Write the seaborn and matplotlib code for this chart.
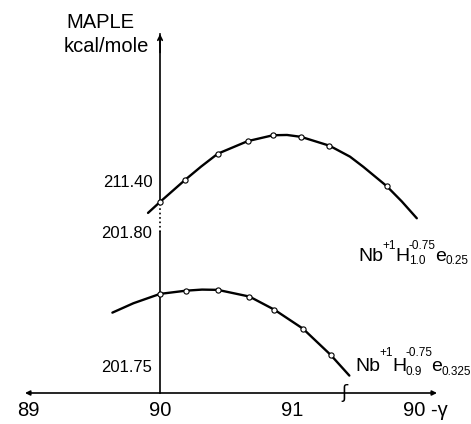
import pandas as pd
import seaborn as sns
from matplotlib import pyplot as plt

# MAPLE (kcal/mole) against 90 - gamma
# upper curve: Nb+1 H1.0 -0.75 e0.25
up_curve_x = [89.909, 90.0, 90.189, 90.311, 90.437, 90.664, 90.856, 90.962,
              91.068, 91.283, 91.439, 91.540, 91.717, 91.831, 91.945]
up_curve_y = [211.3881, 211.3922, 211.4004, 211.4054, 211.4102, 211.4149, 211.4171, 211.4172,
              211.4165, 211.4132, 211.4091, 211.4053, 211.3981, 211.3924, 211.3861]
up_pts_x = [90.0, 90.189, 90.437, 90.664, 90.856, 91.068, 91.283, 91.717]
up_pts_y = [211.3922, 211.4004, 211.4102, 211.4149, 211.4171, 211.4165, 211.4132, 211.3981]

# lower curve: Nb+1 H0.9 -0.75 e0.325
low_curve_x = [89.639, 89.798, 90.0, 90.197, 90.318, 90.437, 90.677, 90.866,
               91.083, 91.293, 91.434]
low_curve_y = [201.7699, 201.7734, 201.7769, 201.7781, 201.7785, 201.7784, 201.7759, 201.7710,
               201.7639, 201.7541, 201.7464]
low_pts_x = [90.0, 90.197, 90.437, 90.677, 90.866, 91.083, 91.293]
low_pts_y = [201.7769, 201.7781, 201.7784, 201.7759, 201.7710, 201.7639, 201.7541]

x_ticks = [89, 90, 91, 92.01]
x_labels = ['89', '90', '91', '90 -γ']
x_break = 91.394
low_ticks = [201.75, 201.80]
low_labels = ['201.75', '201.80']
up_ticks = [211.40]
up_labels = ['211.40']

# formula pieces: (symbol, subscript, superscript)
label_up = [('Nb', '', '+1'), ('H', '1.0', '-0.75'), ('e', '0.25', '')]
label_low = [('Nb', '', '+1'), ('H', '0.9', '-0.75'), ('e', '0.325', '')]

sns.set_style('white')
plt.rcParams['font.family'] = ['Liberation Sans', 'DejaVu Sans']
plt.rcParams['axes.linewidth'] = 1.2
for key in ['text.color', 'axes.labelcolor', 'xtick.color', 'ytick.color', 'axes.edgecolor']:
    plt.rcParams[key] = 'black'

W, H = 471, 424
fig = plt.figure(figsize=(W / 100, H / 100), dpi=100)
renderer = fig.canvas.get_renderer()


def box(x0, y0, x1, y1):
    # pixel box (top-left origin) -> figure fraction rect
    return [x0 / W, 1 - y1 / H, (x1 - x0) / W, (y1 - y0) / H]


def formula(x, base, parts, sup_up, sub_down):
    # chemical formula drawn piece by piece, in pixel coords
    for main, sub, sup in parts:
        t = fig.text(x / W, 1 - base / H, main, fontsize=14, va='baseline')
        x += t.get_window_extent(renderer).width - 0.5
        w = 0
        if sup:
            ts = fig.text(x / W, 1 - (base - sup_up) / H, sup, fontsize=8.5, va='baseline')
            w = max(w, ts.get_window_extent(renderer).width)
        if sub:
            tb = fig.text(x / W, 1 - (base + sub_down) / H, sub, fontsize=8.5, va='baseline')
            w = max(w, tb.get_window_extent(renderer).width)
        x += w - 1


xlim = (88.977, 92.098)
ax_low = fig.add_axes(box(25, 232, 437, 393))
ax_up = fig.add_axes(box(25, 34, 437, 203))

up = pd.DataFrame({'x': up_curve_x, 'y': up_curve_y})
low = pd.DataFrame({'x': low_curve_x, 'y': low_curve_y})
sns.lineplot(data=up, x='x', y='y', ax=ax_up, color='black', lw=1.7,
             sort=False, estimator=None, clip_on=False)
sns.scatterplot(x=up_pts_x, y=up_pts_y, ax=ax_up, s=14, facecolor='white',
                edgecolor='black', linewidth=0.8, zorder=5, clip_on=False)
sns.lineplot(data=low, x='x', y='y', ax=ax_low, color='black', lw=1.7,
             sort=False, estimator=None)
sns.scatterplot(x=low_pts_x, y=low_pts_y, ax=ax_low, s=14, facecolor='white',
                edgecolor='black', linewidth=0.8, zorder=5)

# lower panel: the real x axis
ax_low.set_xlim(*xlim)
ax_low.set_ylim(201.7399, 201.80)
for s in ['top', 'right', 'bottom']:
    ax_low.spines[s].set_visible(False)
ax_low.spines['left'].set_position(('data', 90))
ax_low.set_xticks(x_ticks)
ax_low.set_xticklabels(x_labels, fontsize=14.5)
ax_low.set_yticks(low_ticks)
ax_low.set_yticklabels(low_labels, fontsize=12)
ax_low.tick_params(axis='both', direction='inout', length=5, width=1.2, pad=3)
ax_low.annotate('', xy=(xlim[0], 201.7399), xytext=(xlim[1], 201.7399),
                arrowprops=dict(arrowstyle='<|-|>', lw=1.2, color='black',
                                mutation_scale=7, shrinkA=0, shrinkB=0))
ax_low.text(x_break, 201.7399, 'ʃ', family='DejaVu Sans', fontsize=13,
            ha='center', va='center')
# dotted link between the two parts of the broken axis
ax_low.plot([90, 90], [201.80, 201.8104], ls=':', lw=1.2, color='black', clip_on=False)

# upper panel
ax_up.set_xlim(*xlim)
ax_up.set_ylim(211.3918, 211.4549)
for s in ['top', 'right', 'bottom']:
    ax_up.spines[s].set_visible(False)
ax_up.spines['left'].set_position(('data', 90))
ax_up.set_xticks([])
ax_up.set_yticks(up_ticks)
ax_up.set_yticklabels(up_labels, fontsize=12)
ax_up.tick_params(axis='y', direction='inout', length=5, width=1.2, pad=3)
ax_up.annotate('', xy=(90, 211.4549), xytext=(90, 211.448),
               arrowprops=dict(arrowstyle='->', lw=1.2, color='black',
                               mutation_scale=8, shrinkA=0, shrinkB=0))
for ax in (ax_up, ax_low):
    ax.set_xlabel('')
    ax.set_ylabel('')

# axis title and curve labels
fig.text(66 / W, 1 - 28 / H, 'MAPLE', fontsize=14.5, va='baseline')
fig.text(64 / W, 1 - 52 / H, 'kcal/mole', fontsize=14.5, va='baseline')
formula(358, 261, label_up, 12.5, 3.5)
formula(355, 371, label_low, 15, 4)

fig.savefig('out.png', dpi=100)
